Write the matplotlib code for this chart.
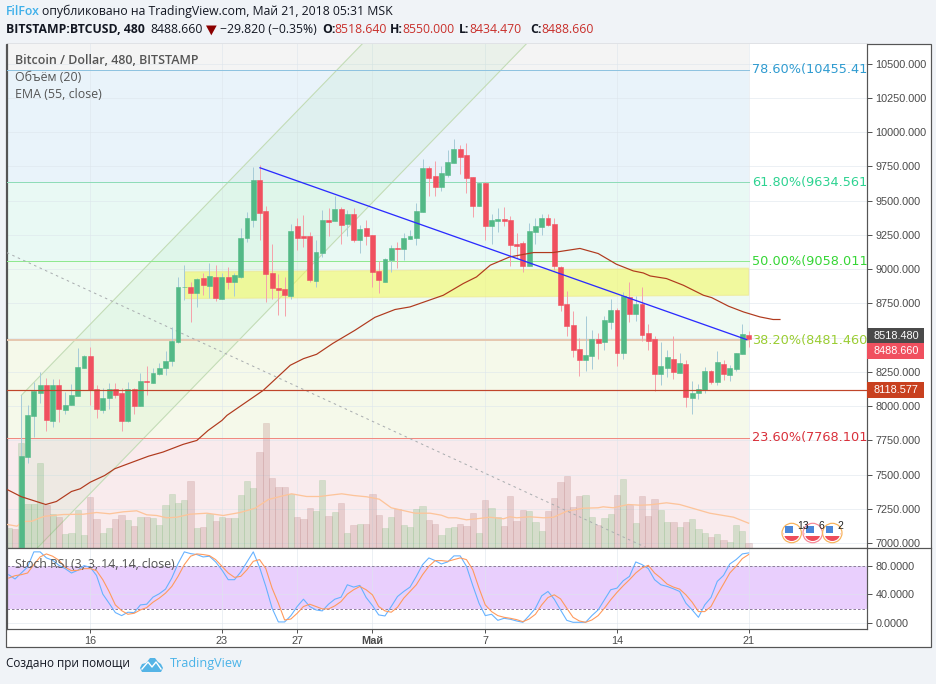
import numpy as np
import matplotlib
matplotlib.use("Agg")
import matplotlib.pyplot as plt
from matplotlib.patches import Rectangle, Polygon, Circle, Wedge

# candles, 8h bars, bar 116 is the last one
opens = [6950,7627,7927,8095,8151,7890,8151,7969,8005,8073,
         8276,8363,8122,7969,8056,8122,8093,7888,8122,7998,
         8181,8166,8232,8276,8327,8466,8868,8868,8824,8933,
         8875,8941,8780,8941,8904,8941,9226,9360,9650,9423,
         8970,8860,8853,8802,9314,9240,9240,8912,9118,9357,
         9352,9438,9328,9401,9211,9299,9248,8985,8904,9065,
         9153,9145,9219,9226,9416,9738,9679,9599,9686,9774,
         9876,9832,9672,9460,9628,9314,9350,9365,9357,9182,
         9189,9021,9270,9306,9372,9328,9014,8743,8590,8414,
         8334,8363,8488,8466,8612,8700,8385,8795,8670,8743,
         8531,8488,8232,8276,8341,8239,8305,8056,8093,8115,
         8254,8173,8305,8224,8268,8378,8518.64]
highs = [8078,8005,8175,8246,8202,8195,8195,8100,8159,8422,
         8371,8429,8151,8129,8166,8166,8129,8173,8129,8239,
         8290,8276,8312,8400,8575,8943,9029,8906,8933,8970,
         9045,9029,8972,9016,8970,9301,9416,9747,9760,9460,
         9182,8963,8941,9328,9372,9394,9270,9211,9431,9445,
         9535,9455,9431,9445,9321,9357,9248,9060,9080,9175,
         9199,9262,9284,9482,9803,9752,9789,9752,9869,9949,
         9906,9920,9672,9637,9637,9401,9445,9452,9387,9262,
         9204,9335,9372,9401,9401,9372,9021,8838,8692,8495,
         8656,8553,8531,8656,8780,8714,8831,8904,8802,8868,
         8597,8510,8466,8407,8510,8385,8334,8181,8159,8283,
         8261,8400,8334,8298,8385,8597,8550]
lows = [6900,7583,7771,8022,7817,7846,7883,7939,8005,8073,
        8276,8005,7912,7949,7976,8058,7815,7883,7939,7998,
        8078,8166,8224,8224,8290,8461,8778,8614,8724,8809,
        8787,8768,8780,8853,8802,8936,9199,9308,9211,8760,
        8780,8663,8656,8780,9138,9162,8906,8868,9089,9240,
        9350,9182,9240,9199,9118,9175,8870,8826,8904,8980,
        9007,9065,9219,9175,9416,9533,9533,9569,9672,9774,
        9694,9557,9382,9460,9211,9182,9270,9314,9021,9080,
        8977,9021,9182,9248,9314,8992,8692,8510,8356,8219,
        8254,8268,8341,8407,8561,8290,8341,8612,8619,8473,
        8407,8107,8151,8210,8195,8239,7990,7939,8049,8093,
        8159,8151,8188,8181,8254,8378,8434.47]
closes = [7632,7932,8107,8151,7895,8151,7976,8005,8078,8283,
          8363,8120,7976,8056,8122,8078,7888,8122,7998,8181,
          8173,8239,8276,8327,8473,8868,8871,8824,8926,8882,
          8948,8787,8941,8904,8955,9226,9372,9650,9411,8965,
          8860,8846,8809,9277,9226,9226,8919,9124,9357,9345,
          9438,9321,9401,9211,9292,9240,8977,8919,9072,9153,
          9145,9226,9240,9423,9738,9665,9599,9701,9781,9876,
          9818,9665,9460,9628,9314,9357,9365,9350,9175,9167,
          9021,9277,9314,9372,9321,9021,8736,8583,8407,8334,
          8371,8488,8458,8626,8700,8385,8802,8670,8743,8517,
          8473,8232,8290,8356,8246,8312,8064,8093,8122,8254,
          8173,8319,8232,8276,8385,8524,8488.66]

# volume starts two bars before the first visible candle (no scale on the chart)
volumes = [19.7,18.7,105,43,43.7,84.7,42.7,33.7,31,13.7,14.7,38,12.7,50.7,28.7,14.7,20,28.7,33,28,
           21.7,30.7,30.7,29.7,23,42.7,53.7,44.7,47.7,66.7,19.7,21,34,27,30.7,29.7,29.7,52.7,66.7,59.7,
           95.7,125,69.7,60.7,60.7,53.7,30.7,28.7,39.7,36.7,
           67.7,31.7,35.7,44.7,14.7,22.7,23.7,23.7,53.7,32.7,19.7,30.7,38.7,22.7,20.7,38.7,41.7,27.7,23.7,12.7,
           19.7,20.7,23.7,21.7,34.7,14.7,47.7,39.7,30.7,21.7,51.7,26.7,37.7,36.7,25.7,16.7,36.7,49.7,65.7,71.7,
           40.7,51.7,52.7,30.7,22.7,29.7,33.7,52.7,68.7,42.7,24.7,
           52,32,48.7,37,25.7,25.7,20.7,25.7,28.7,18.7,14.7,10.7,13.7,7.7,5.7,22.7,16.7,4.7]
vol_first_up = [True, False]

vma_x = [-2.2,-0.7,0.3,1.7,3,3.8,6.7,9.9,12,14.1,16.3,18.4,20,21.6,23.2,24.8,26.9,29.6,32.2,34.9,
         37.3,39.4,41.3,43.1,45.5,47.6,49.2,51.1,53,55.1,57.1,59,60.9,62.8,65.2,67,68.1,69.4,71,72.6,
         74.7,76.9,77.9,79,81.1,83.3,84.9,87,89.6,92,92.8,94.4,96.8,98.7,100.3,102.9,105,107.2,109.8,113.6,116]
vma_y = [23,21.3,26,26.3,29.7,31.3,33,33.3,35,33.7,35.7,36.7,32.7,32,29.7,30.3,33.3,34.3,32,35,
         39.3,48,51,53.7,51,51,52.3,53.7,52,50.7,48.3,39.7,37,34.3,34.3,32.3,29.7,29.7,27.7,28.7,
         30.3,28.7,30.7,29.7,30.7,29.7,30.3,36.3,39.3,39.7,40.7,39.7,43,42.3,42.7,44.7,43,39,34.3,30.3,24.3]

ema_x = [-2.2,0,3.9,5.6,8,9.4,11,13.3,14.9,17.3,20.3,22.6,25.8,28,29.8,32,32.8,38.6,42.9,45,47.1,49.7,
         53.2,56.4,59.6,62,67.3,70.5,72.6,74.8,77.9,81.7,84.8,89.1,92,94.9,97.6,99.2,100.3,102.9,105.6,
         108.8,110.1,112.8,115.2,117.8,119.9,121]
ema_y = [7389,7338,7281,7303,7376,7396,7444,7493,7542,7583,7634,7664,7720,7749,7822,7895,7932,8115,8298,
         8346,8378,8458,8553,8648,8705,8724,8809,8895,8943,9029,9089,9121,9121,9151,9114,9036,8987,8972,
         8950,8931,8882,8809,8792,8729,8687,8651,8632,8632]

# stoch rsi, same start as volume
stoch_k = [68,62,70.5,79,100.5,100.5,92,88.6,81.4,76.7,70.5,74.3,81,78.6,67,40.5,27.6,14.3,10,14.8,
           14.3,25.2,26.2,36.2,41,47.6,63.3,83.8,100.5,98,96.7,93.3,94.3,86.2,74.8,61,61,71.9,86.2,100.5,
           78.6,51.4,20.5,1,1,10,22.9,33.3,22.9,18.1,16.7,26.2,33.3,36.2,53.8,50.5,52.9,35.7,24.3,11,
           9.5,22.9,37.1,44.3,50.5,65.7,82.4,91.9,88.1,83.3,86.2,94.8,94.8,80,52.9,27.6,10,11.9,3.3,6.2,
           4.8,2.4,0.5,10,20.5,38.1,44.3,33.3,18.1,3.3,0.5,0.5,0.5,10,18.1,32.4,46.7,49,59.5,65.7,
           86.2,82.4,76.7,61,53.8,51.4,48.1,44.3,27.6,18.1,7.6,25.2,35.7,58.6,67.1,83.3,89.5,97.6,99]
stoch_d = [63.3,66.7,68.1,70.5,82.4,93.3,97.6,94.3,88.6,78.6,73.8,74.3,76.7,76.7,73.8,61,44.3,25.2,17.1,11.9,
           13.3,18.1,21.4,29,34.8,41.9,51.4,65.7,82.4,94.3,97.6,96.7,95.2,89.5,80,70.5,64.3,65.7,75.2,87.1,
           89.5,76.7,49,27.6,3.8,5.2,13.3,22.9,26.2,22.9,19.5,19.5,23.8,30,40.5,46.7,51.4,46.7,39.5,22.9,
           16.7,14.8,21.9,34.8,44.3,53.8,68.1,80,88.1,88.1,87.1,89.5,91.9,89.5,75.2,49,25.2,15.7,10,7.6,
           6.2,4.3,1.4,5.2,11.9,25.2,35.7,39.5,33.8,20.5,7.6,2.4,0.5,3.8,10,20.5,32.4,42.9,52.4,61,
           70.5,77.6,81.4,70.5,63.3,54.8,50.5,47.6,39.5,29,15.7,15.7,22.9,39.5,54.8,70.5,80,91,96.7]

# fib levels
fib_pct = ["78.60%", "61.80%", "50.00%", "38.20%", "23.60%"]
fib_price = [10455.41, 9634.561, 9058.011, 8481.46, 7768.101]
fib_text = ["10455.41)", "9634.561)", "9058.011)", "8481.460)", "7768.101)"]

# drawings on the chart, bar index / price
channel_x = [0, 85, 85, 0]
channel_y = [8078, 12090, 10855, 6843]
dash_x = [-2.3, 99.5]
dash_y = [9120, 6970]
trend_x = [38.07, 115.7]
trend_y = [9740, 8485]
box_x = [26.1, 116, 116, 26.1]
box_y = [8980, 9007, 8809, 8785]
hline_price = 8118.577

price_ticks = list(range(7000, 10501, 250))
stoch_ticks = [0, 40, 80]
date_ticks = [11, 32, 44, 56, 74, 95, 116]
date_labels = ["16", "23", "27", "Май", "7", "14", "21"]

W, H = 937, 684
BG = "#f0f3f7"
AXC = "#555555"
SANS = "Liberation Sans"
HEAD = "Open Sans"
UP = "#53b987"
DOWN = "#f0505f"
PX = 0.72  # one pixel in points at dpi 100

fig = plt.figure(figsize=(W / 100, H / 100), dpi=100, facecolor=BG)


def px_axes(left, top, right, bottom, **kw):
    return fig.add_axes([left / W, 1 - bottom / H, (right - left) / W, (bottom - top) / H], **kw)


# white card behind the panes
bg = fig.add_axes([0, 0, 1, 1], zorder=0)
bg.set_xlim(0, W)
bg.set_ylim(H, 0)
bg.axis("off")
bg.add_patch(Rectangle((6.5, 43.5), 924.5, 603.5, fc="white", ec=AXC, lw=PX * 1.2))

ax = px_axes(7, 44, 867, 547.5, zorder=1)
ax_rsi = px_axes(7, 547.5, 867, 628.5, zorder=1)
xlim = (-2.28, 134.88)
ylim = (6967, 10644)

o = np.array(opens)
h = np.array(highs)
l = np.array(lows)
c = np.array(closes)
bars = np.arange(len(o))
up = c >= o

# background zones of the fib tool
zone_edges = [ylim[1]] + fib_price + [ylim[0]]
zone_cols = ["#f4f4f4", "#e9f3fa", "#e9f9f4", "#eefaf2", "#f5f9ea", "#f9ebed"]
for i, col in enumerate(zone_cols):
    ax.fill_between([xlim[0], 116], zone_edges[i + 1], zone_edges[i], color=col, lw=0, zorder=1)

for p in price_ticks:
    ax.axhline(p, color="#dde5ec", lw=PX, alpha=0.55, zorder=1.5)
for t in date_ticks:
    ax.axvline(t, color="#dde5ec", lw=PX, alpha=0.55, zorder=1.5)

ax.add_patch(Polygon(np.column_stack([channel_x, channel_y]), fc="#4ccf4c", ec="none", alpha=0.06, zorder=2))
ax.plot(channel_x[:2], channel_y[:2], color="#c3dcb6", lw=PX * 1.1, zorder=2.1)
ax.plot(channel_x[2:], channel_y[2:], color="#c3dcb6", lw=PX * 1.1, zorder=2.1)
ax.plot([0, 0], [channel_y[3], channel_y[0]], color="#c3dcb6", lw=PX, zorder=2.1)

ax.add_patch(Polygon(np.column_stack([box_x, box_y]), fc="#f5f95a", ec="#eee68c", alpha=0.55, lw=PX * 1.2, zorder=2.2))

# volume sits on the floor of the main pane
vol_x = np.arange(-2, len(o))
vol_up = vol_first_up + list(up)
vol_scale = (ylim[1] - ylim[0]) / 503.5
vol_cols = ["#6db069" if u else "#b57475" for u in vol_up]
ax.bar(vol_x, np.array(volumes) * vol_scale, bottom=ylim[0], width=1.0, color=vol_cols,
       edgecolor=vol_cols, lw=PX * 0.6, alpha=0.25, zorder=2.5)
ax.plot(vma_x, ylim[0] + np.array(vma_y) * vol_scale, color="#fdc49a", lw=PX * 1.3, zorder=2.7)

# fib lines
fib_line_cols = ["#8fc3e0", "#8fdcb8", "#90e890", "#e6c8b0", "#f08a80"]
fib_lw = [1, 1, 1, 2, 1]
fib_txt_cols = ["#2f9bd0", "#2dd391", "#36d636", "#9acd32", "#d9303a"]
for i, p in enumerate(fib_price):
    ax.plot([xlim[0], 116], [p, p], color=fib_line_cols[i], lw=PX * fib_lw[i], zorder=2.8)
    ax.text(116.5, p, fib_pct[i] + "(" + fib_text[i], color=fib_txt_cols[i], fontsize=9.3,
            family="DejaVu Sans", va="center", ha="left", clip_on=True, zorder=6)

ax.plot(dash_x, dash_y, color="#a9adb0", lw=PX, ls=(0, (2.5, 3.5)), zorder=2.9)

# candles
wick_cols = ["#a8ccd8" if u else "#f5a3ab" for u in up]
body_cols = [UP if u else DOWN for u in up]
ax.vlines(bars, l, h, colors=wick_cols, lw=PX, zorder=3)
ax.bar(bars, np.abs(c - o), bottom=np.minimum(o, c), width=0.78, color=body_cols,
       edgecolor=body_cols, lw=0.4, zorder=3.1)

ax.plot(ema_x, ema_y, color="#b03a1e", lw=PX * 1.2, zorder=4)
ax.plot(trend_x, trend_y, color="#2b2bff", lw=PX * 1.3, zorder=4.1)
ax.axhline(hline_price, color="#c0452a", lw=PX * 1.2, zorder=4)

ax.set_xlim(xlim)
ax.set_ylim(ylim)
ax.yaxis.tick_right()
ax.set_yticks(price_ticks)
# 8500 is hidden behind the price labels
ax.set_yticklabels(["" if p == 8500 else "%.3f" % p for p in price_ticks])
ax.set_xticks([])
ax.tick_params(axis="y", length=3.6, width=PX, color=AXC, labelcolor="#4a4a4a", labelsize=7.8, pad=2.5)
for lab in ax.get_yticklabels():
    lab.set_family(SANS)
for s in ax.spines.values():
    s.set_color(AXC)
    s.set_linewidth(PX * 1.2)
ax.spines["top"].set_visible(False)

# stoch pane
stoch_x = np.arange(-2, len(o))
ax_rsi.axhspan(20, 80, xmin=0, xmax=1, color="#e9cffd", lw=0, zorder=1)
ax_rsi.axhline(80, color="#8f7f9c", lw=PX, ls=(0, (2.5, 2)), zorder=1.2)
ax_rsi.axhline(20, color="#8f7f9c", lw=PX, ls=(0, (2.5, 2)), zorder=1.2)
for p in stoch_ticks:
    ax_rsi.axhline(p, color="#dde5ec", lw=PX, alpha=0.55, zorder=1.1)
for t in date_ticks:
    ax_rsi.axvline(t, color="#dde5ec", lw=PX, alpha=0.55, zorder=1.1)
ax_rsi.plot(stoch_x, stoch_k, color="#66b2ff", lw=PX * 1.1, zorder=3)
ax_rsi.plot(stoch_x, stoch_d, color="#ff9a5c", lw=PX * 1.1, zorder=3.1)
ax_rsi.set_xlim(xlim)
ax_rsi.set_ylim(-8.3, 106.7)
ax_rsi.yaxis.tick_right()
ax_rsi.set_yticks(stoch_ticks)
ax_rsi.set_yticklabels(["%.4f" % p for p in stoch_ticks])
ax_rsi.set_xticks(date_ticks)
ax_rsi.set_xticklabels(date_labels)
ax_rsi.tick_params(axis="both", length=3, width=PX, color=AXC, labelcolor="#4a4a4a", labelsize=7.8)
ax_rsi.tick_params(axis="y", length=3.6, pad=2.5)
ax_rsi.tick_params(axis="x", pad=2.5)
for lab in ax_rsi.get_yticklabels() + ax_rsi.get_xticklabels():
    lab.set_family(SANS)
ax_rsi.get_xticklabels()[3].set_fontweight("bold")
for s in ax_rsi.spines.values():
    s.set_color(AXC)
    s.set_linewidth(PX * 1.2)

# everything in pixel coordinates goes on this one
ov = fig.add_axes([0, 0, 1, 1], zorder=5)
ov.set_xlim(0, W)
ov.set_ylim(H, 0)
ov.axis("off")
ov.patch.set_alpha(0)

# pane separator runs on through the scale
ov.plot([867, 931], [547.5, 547.5], color=AXC, lw=PX * 1.2)


def txt(x, y, s, color="#131722", size=8.8, weight="normal", family=HEAD):
    ov.text(x, y, s, color=color, fontsize=size, fontweight=weight, family=family, va="center", ha="left")


# header lines
txt(6, 11.5, "FilFox", color="#3fb0ea", weight="semibold")
txt(42.5, 11.5, "опубликовано на TradingView.com, Май 21, 2018 05:31 MSK")
txt(6, 29.5, "BITSTAMP:BTCUSD, 480", weight="bold", size=8.85)
txt(150, 29.5, "8488.660")
ov.add_patch(Polygon([(206, 25.5), (216.7, 25.5), (211.3, 35.3)], fc="#8b0000", ec="none"))
txt(220, 29.5, "−29.820 (−0.35%)")
for x0, x1, name, val in [(322, 334.5, "O:", "8518.640"), (390, 402.5, "H:", "8550.000"),
                          (459, 469, "L:", "8434.470"), (530, 541, "C:", "8488.660")]:
    txt(x0, 29.5, name, weight="bold")
    txt(x1, 29.5, val, color="#c9302c")

# legend text inside the panes
txt(15, 60.5, "Bitcoin / Dollar, 480, BITSTAMP", color="#555555", weight="semibold", size=9)
txt(15, 77.5, "Объём (20)", color="#555555", size=8.9)
txt(15, 94.5, "EMA (55, close)", color="#555555", size=8.9)
txt(15, 564, "Stoch RSI (3, 3, 14, 14, close)", color="#555555", size=8.85)

# price labels on the scale
for y0, y1, col, s in [(328.3, 343.3, "#4a4a4a", "8518.480"), (343.3, 358.7, "#f0505f", "8488.660"),
                       (382.3, 397.7, "#c8401f", "8118.577")]:
    ov.add_patch(Rectangle((867.5, y0), 56.5, y1 - y0, fc=col, ec="none"))
    txt(873.5, (y0 + y1) / 2, s, color="white", size=7.8, family=SANS)

# earnings flags at the bottom right
for cx, ring, num, nx in [(791.7, "#f7b35c", "13", 797.5), (812.7, "#f78a96", "6", 819), (832.3, "#f7b35c", "2", 837.5)]:
    ov.add_patch(Circle((cx, 533), 9.7, fc="white", ec=ring, lw=PX * 1.2))
    ov.add_patch(Wedge((cx, 533), 8, 0, 180, fc="#ee4d5a", ec="none"))
    ov.add_patch(Rectangle((cx - 8, 533 - 0.5), 16, 3.5, fc="white", ec="none"))
    ov.add_patch(Rectangle((cx - 6.5, 526), 7.5, 6.5, fc="#4a86d8", ec="none"))
    ov.text(nx, 526, num, color="#222222", fontsize=7.5, family=SANS, va="center", ha="left")

# footer
txt(6, 663.5, "Создано при помощи", size=8.5)
ov.add_patch(Polygon([(140, 668), (142, 664), (146, 663), (150, 658), (155, 658), (158, 662), (161, 664),
                      (163, 668), (161, 672), (142, 672)], fc="#55b4e6", ec="none"))
ov.plot([142, 148, 152, 156, 161], [669, 662, 667, 662, 669], color="white", lw=1)
txt(170, 663.5, "TradingView", color="#4ab3e8", size=9.1)

fig.savefig("out.png", dpi=100, facecolor=BG)
